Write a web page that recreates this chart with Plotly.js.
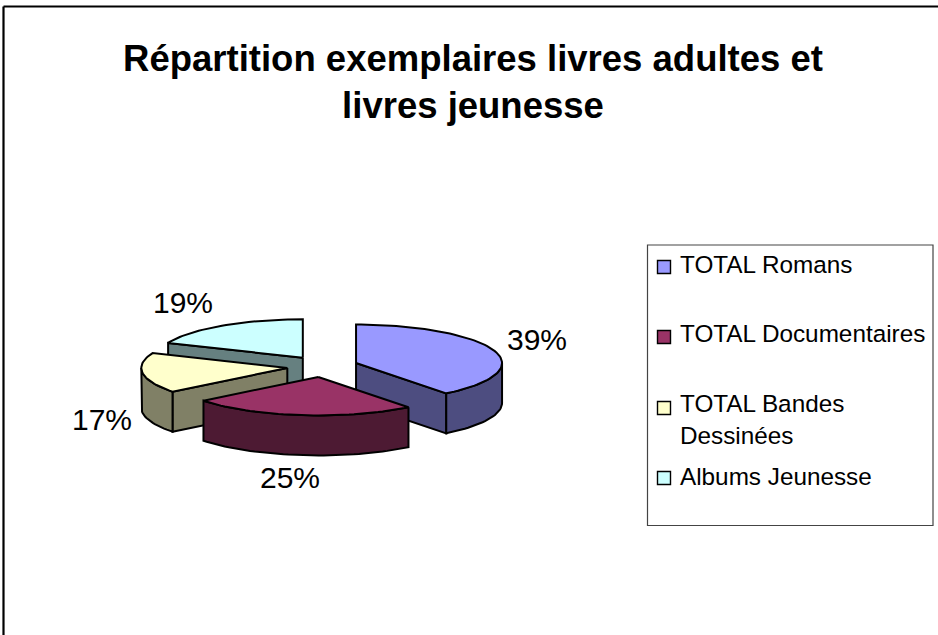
<!DOCTYPE html>
<html lang="fr">
<head>
<meta charset="utf-8">
<script src="https://cdn.plot.ly/plotly-3.0.1.min.js"></script>
<style>html,body{margin:0;padding:0;background:#fff}#chart{width:938px;height:635px}</style>
</head>
<body>
<div id="chart"></div>
<script>
// Data
const categories = ["TOTAL Romans", "TOTAL Documentaires", "TOTAL Bandes<br>Dessinées", "Albums Jeunesse"];
const values = [39.4, 25.0, 16.9, 18.7];

// Styles
const topColors = ["#9999FF", "#993366", "#FFFFCC", "#CCFFFF"];
const sideColors = ["#4D4D80", "#4D1A33", "#808066", "#668080"];
const drawOrder = [3, 2, 0, 1];
const FONT = "Liberation Sans, Arial, sans-serif";

// Projection of the tilted pie, in plot units (axes run 1:1 with the page)
const pie = {cx: 322.5, cy: 366.5, rx: 146, ry: 38.5, depth: 40, explodeX: 35.5, explodeY: 10.5};
const labelAnchors = [[537, 339], [290, 477], [102, 419], [183, 302]];
const legendSwatchY = [267, 337, 408, 478];
const legendTextY = [264, 333, 419.5, 476];

const total = values.reduce((a, b) => a + b, 0);
const rad = d => d * Math.PI / 180;
const traces = [];

function addPoly(xs, ys, fill) {
  traces.push({
    type: "scatter", mode: "lines", x: xs.concat(xs[0]), y: ys.concat(ys[0]),
    fill: "toself", fillcolor: fill, line: {color: "#000", width: 2, shape: "linear"},
    hoverinfo: "skip", showlegend: false
  });
}

// cumulative angles, clockwise from 12 o'clock
const starts = [];
let acc = 0;
values.forEach(v => { starts.push(acc / total * 360); acc += v; });

drawOrder.forEach(i => {
  const a0 = starts[i], a1 = a0 + values[i] / total * 360, mid = (a0 + a1) / 2;
  const ax = pie.cx + pie.explodeX * Math.sin(rad(mid));
  const ay = pie.cy - pie.explodeY * Math.cos(rad(mid));
  const px = a => ax + pie.rx * Math.sin(rad(a));
  const py = a => ay - pie.ry * Math.cos(rad(a));
  const arc = (s, e) => { const o = []; const n = Math.max(2, Math.ceil(Math.abs(e - s) / 2)); for (let k = 0; k <= n; k++) o.push(s + (e - s) * k / n); return o; };

  // radial walls
  if (Math.sin(rad(a0)) < -0.01) addPoly([ax, px(a0), px(a0), ax], [ay, py(a0), py(a0) + pie.depth, ay + pie.depth], sideColors[i]);
  if (Math.sin(rad(a1)) > 0.01) addPoly([ax, px(a1), px(a1), ax], [ay, py(a1), py(a1) + pie.depth, ay + pie.depth], sideColors[i]);
  // outer wall: only the part that faces the viewer
  const s = Math.max(a0, 90), e = Math.min(a1, 270);
  if (e > s) {
    const t = arc(s, e);
    addPoly(t.map(px).concat(t.slice().reverse().map(px)),
            t.map(py).concat(t.slice().reverse().map(a => py(a) + pie.depth)), sideColors[i]);
  }
  // top face
  const t = arc(a0, a1);
  addPoly([ax].concat(t.map(px)), [ay].concat(t.map(py)), topColors[i]);
});

// legend swatches
categories.forEach((c, i) => {
  traces.push({
    type: "scatter", mode: "markers", x: [664], y: [legendSwatchY[i]],
    marker: {symbol: "square", size: 13, color: topColors[i], line: {color: "#000", width: 1.4}},
    name: c.replace("<br>", " "), hoverinfo: "skip", showlegend: false
  });
});

const annotations = [];
values.forEach((v, i) => annotations.push({
  x: labelAnchors[i][0], y: labelAnchors[i][1], xref: "x", yref: "y", showarrow: false,
  text: Math.round(v / total * 100) + "%", font: {family: FONT, size: 30, color: "#000"},
  xanchor: "center", yanchor: "middle"
}));
categories.forEach((c, i) => annotations.push({
  x: 678, y: legendTextY[i], xref: "x", yref: "y", showarrow: false, text: c, align: "left",
  font: {family: FONT, size: 24.3, color: "#000"}, xanchor: "left", yanchor: "middle"
}));

const layout = {
  width: 938, height: 635, margin: {l: 0, r: 0, t: 0, b: 0},
  paper_bgcolor: "#fff", plot_bgcolor: "#fff", showlegend: false,
  title: {text: "<b>Répartition exemplaires livres adultes et<br>livres jeunesse</b>", x: 473 / 938, xanchor: "center",
          y: 1 - 71 / 635, yanchor: "middle", font: {family: FONT, size: 36.5, color: "#000"}},
  xaxis: {range: [0, 938], visible: false, fixedrange: true},
  yaxis: {range: [635, 0], visible: false, fixedrange: true},
  annotations,
  shapes: [
    {type: "line", x0: 3.5, x1: 3.5, y0: 6.5, y1: 635, line: {color: "#000", width: 2.2}},
    {type: "line", x0: 3.5, x1: 938, y0: 6.5, y1: 6.5, line: {color: "#000", width: 2.2}},
    {type: "rect", x0: 647.5, x1: 933, y0: 245, y1: 525.5, line: {color: "#444", width: 1.2}, fillcolor: "rgba(0,0,0,0)"}
  ]
};
Plotly.newPlot("chart", traces, layout, {displayModeBar: false, responsive: false});
</script>
</body>
</html>
